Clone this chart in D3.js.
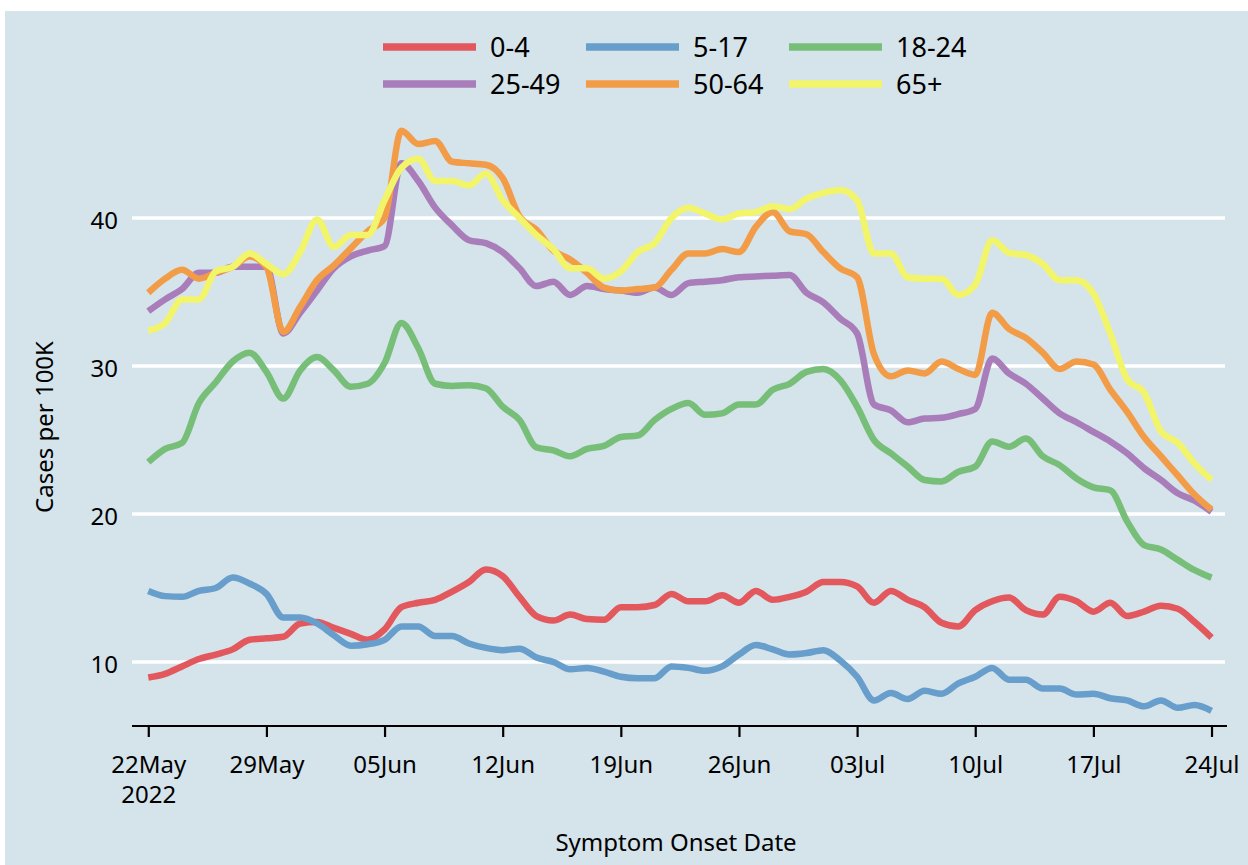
<!DOCTYPE html>
<html>
<head>
<meta charset="utf-8">
<script src="https://cdn.jsdelivr.net/npm/d3@7"></script>
<style>
  html, body { margin: 0; padding: 0; background: #ffffff; }
  svg { display: block; font-family: "Noto Sans", "Open Sans", sans-serif; }
</style>
</head>
<body>
<svg id="chart" width="1248" height="865"></svg>
<script>
// ---- data ----
const startDate = new Date(2022, 4, 22); // 22 May 2022, daily values
const seriesNames = ["0-4", "5-17", "18-24", "25-49", "50-64", "65+"];
const seriesColors = ["#e2585d", "#679ecb", "#77bf79", "#a97cba", "#f39c48", "#f2f56a"];

const age0_4 = [8.95,9.2,9.7,10.2,10.5,10.85,11.5,11.6,11.7,12.6,
  12.7,12.3,11.9,11.5,12.2,13.7,14.0,14.2,14.75,15.4,
  16.25,15.8,14.4,13.1,12.8,13.2,12.9,12.85,13.7,13.7,
  13.85,14.6,14.1,14.1,14.5,14.0,14.8,14.2,14.4,14.75,
  15.4,15.4,15.1,14.0,14.8,14.2,13.7,12.65,12.4,13.5,
  14.1,14.35,13.5,13.2,14.4,14.1,13.4,14.0,13.1,13.4,
  13.8,13.6,12.7,11.65];
const age5_17 = [14.8,14.45,14.4,14.8,15.0,15.7,15.3,14.6,13.0,13.0,
  12.6,11.8,11.1,11.2,11.5,12.4,12.4,11.75,11.75,11.25,
  10.95,10.8,10.9,10.3,10.0,9.5,9.6,9.35,9.0,8.9,
  8.9,9.7,9.6,9.4,9.7,10.5,11.15,10.85,10.5,10.6,
  10.8,10.1,9.0,7.4,7.9,7.5,8.05,7.85,8.55,9.0,
  9.6,8.8,8.8,8.2,8.2,7.8,7.85,7.55,7.4,7.0,
  7.4,6.9,7.1,6.7];
const age18_24 = [23.5,24.4,24.8,27.5,28.9,30.3,30.9,29.6,27.8,29.7,
  30.6,29.7,28.6,28.8,30.2,32.9,31.2,28.8,28.65,28.7,
  28.5,27.25,26.35,24.5,24.3,23.9,24.4,24.6,25.2,25.3,
  26.35,27.1,27.5,26.7,26.8,27.4,27.4,28.4,28.8,29.6,
  29.8,29.05,27.25,25.0,24.1,23.2,22.3,22.2,22.85,23.2,
  24.9,24.55,25.1,23.9,23.3,22.4,21.8,21.6,19.5,17.9,
  17.6,16.9,16.2,15.7];
const age25_49 = [33.7,34.5,35.2,36.3,36.3,36.7,36.7,36.7,32.2,33.6,
  35.1,36.6,37.4,37.8,38.1,43.7,42.5,40.7,39.5,38.5,
  38.3,37.7,36.6,35.4,35.7,34.8,35.4,35.2,35.1,34.95,
  35.3,34.8,35.6,35.7,35.8,36.0,36.05,36.1,36.15,34.95,
  34.3,33.2,32.2,27.4,27.0,26.2,26.45,26.5,26.75,27.1,
  30.5,29.5,28.8,27.8,26.8,26.2,25.55,24.9,24.1,23.1,
  22.3,21.4,20.9,20.15];
const age50_64 = [34.95,35.9,36.5,35.9,36.3,36.7,37.4,36.7,32.3,34.0,
  35.8,36.8,37.95,39.1,40.0,45.9,45.0,45.2,43.8,43.7,
  43.6,42.7,40.1,39.2,37.8,37.2,36.3,35.3,35.1,35.2,
  35.3,36.5,37.6,37.6,37.9,37.7,39.4,40.4,39.1,38.9,
  37.7,36.6,36.0,30.8,29.3,29.7,29.5,30.3,29.8,29.4,
  33.6,32.5,31.9,30.9,29.8,30.3,30.1,28.4,26.9,25.2,
  23.9,22.6,21.3,20.3];
const age65plus = [32.4,32.9,34.5,34.5,36.4,36.7,37.6,36.9,36.2,37.7,
  39.9,38.05,38.85,38.85,41.2,43.4,44.0,42.5,42.5,42.2,
  43.0,41.2,40.0,38.85,37.9,36.6,36.6,35.9,36.4,37.7,
  38.3,40.0,40.7,40.3,39.9,40.3,40.4,40.8,40.6,41.3,
  41.7,41.9,41.2,37.6,37.6,36.0,35.9,35.9,34.8,35.5,
  38.5,37.65,37.5,36.9,35.8,35.8,34.9,32.2,29.1,28.2,
  25.6,24.8,23.4,22.3];

const seriesValues = [age0_4, age5_17, age18_24, age25_49, age50_64, age65plus];
const yTickValues = [10, 20, 30, 40];
const xTickLabels = ["22May", "29May", "05Jun", "12Jun", "19Jun", "26Jun", "03Jul", "10Jul", "17Jul", "24Jul"];
const yTitle = "Cases per 100K";
const xTitle = "Symptom Onset Date";

// ---- drawing ----
const svg = d3.select("#chart");
const W = 1248, H = 865;

svg.append("rect").attr("x", 5).attr("y", 11).attr("width", W - 5).attr("height", H - 11)
  .attr("fill", "#d5e3ea");

const x = d3.scaleTime()
  .domain([d3.timeDay.offset(startDate, -1), d3.timeDay.offset(startDate, 64)])
  .range([131.4, 1228.4]);
const y = d3.scaleLinear().domain([5.7, 46.9]).range([725.6, 115.9]);

const plotLeft = 132, plotRight = 1225;

// gridlines
svg.append("g").selectAll("line").data(yTickValues).join("line")
  .attr("x1", plotLeft).attr("x2", plotRight)
  .attr("y1", d => y(d)).attr("y2", d => y(d))
  .attr("stroke", "#ffffff").attr("stroke-width", 3.5);

// y tick labels
svg.append("g").selectAll("text").data(yTickValues).join("text")
  .attr("x", 118).attr("y", d => y(d)).attr("dy", "0.44em")
  .attr("text-anchor", "end").attr("font-size", 24).attr("fill", "#000")
  .text(d => d);

// x axis
const xTicks = xTickLabels.map((_, i) => d3.timeDay.offset(startDate, i * 7));
const xAxis = d3.axisBottom(x).tickValues(xTicks).tickSize(11).tickPadding(19)
  .tickFormat((d, i) => xTickLabels[i]);
const gx = svg.append("g").attr("transform", "translate(0,726)").call(xAxis);
gx.select(".domain").attr("d", `M${plotLeft},0H1227`).attr("stroke", "#000").attr("stroke-width", 2.2);
gx.selectAll(".tick line").attr("stroke", "#000").attr("stroke-width", 2.2);
gx.selectAll(".tick text").attr("font-size", 24).attr("fill", "#000")
  .attr("font-family", "'Noto Sans', sans-serif");
gx.select(".tick text").each(function () {
  const t = d3.select(this);
  const label = t.text();
  t.text(null);
  t.append("tspan").attr("x", 0).text(label);
  t.append("tspan").attr("x", 0).attr("dy", 30).text(startDate.getFullYear());
});

// lines
const line = d3.line()
  .x((d, i) => x(d3.timeDay.offset(startDate, i)))
  .y(d => y(d))
  .curve(d3.curveMonotoneX);

svg.append("g").selectAll("path").data(seriesValues).join("path")
  .attr("d", d => line(d))
  .attr("fill", "none")
  .attr("stroke", (d, i) => seriesColors[i])
  .attr("stroke-width", 6.5)
  .attr("stroke-linejoin", "round")
  .attr("stroke-linecap", "butt");

// axis titles
svg.append("text").attr("x", 676).attr("y", 851).attr("text-anchor", "middle")
  .attr("font-size", 24).attr("fill", "#000").text(xTitle);
svg.append("text").attr("transform", "translate(53,427) rotate(-90)")
  .attr("text-anchor", "middle").attr("font-size", 24).attr("fill", "#000").text(yTitle);

// legend
const legend = svg.append("g");
seriesNames.forEach((name, i) => {
  const col = i % 3, row = Math.floor(i / 3);
  const lx = 383 + col * 203, ly = 47 + row * 37;
  legend.append("line").attr("x1", lx).attr("x2", lx + 93).attr("y1", ly).attr("y2", ly)
    .attr("stroke", seriesColors[i]).attr("stroke-width", 7.5);
  legend.append("text").attr("x", lx + 107).attr("y", ly).attr("dy", "0.36em")
    .attr("font-size", 27).attr("fill", "#000").text(name);
});
</script>
</body>
</html>
